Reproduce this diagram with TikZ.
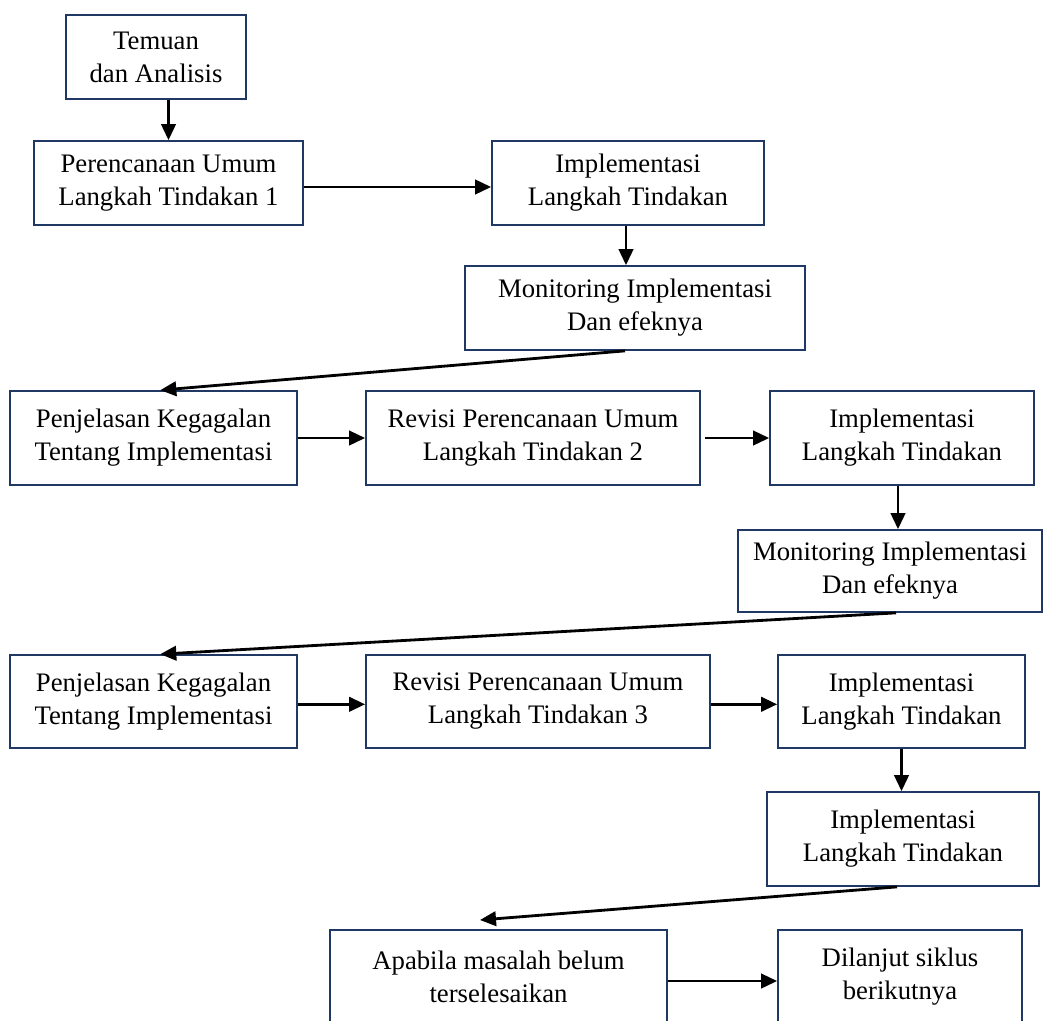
\documentclass[tikz,border=0pt]{standalone}
\usepackage{fontspec}
\setmainfont{Liberation Serif}
\usetikzlibrary{arrows.meta}
\definecolor{boxblue}{RGB}{31,56,100}

\begin{document}
\begin{tikzpicture}[x=0.025cm,y=-0.025cm,thick]
			\tikzstyle{every node}=[shape=rectangle,draw=boxblue,line width=1.2pt,text=black,align=center,inner sep=0pt,font=\fontsize{19}{23.5}\selectfont]
			\tikzstyle{arr}=[-{Triangle[length=0.4cm,width=0.36cm]},draw=black,line width=2pt]
			
			\useasboundingbox (0,0) rectangle (1044,1020);
			
			\node (temuan)   [minimum width=4.5cm,minimum height=2.1cm]     at (156,57)      {Temuan\\dan Analisis};
			\node (rencana1) [minimum width=6.725cm,minimum height=2.1cm]   at (168.5,183)   {Perencanaan Umum\\Langkah Tindakan 1};
			\node (impl1)    [minimum width=6.8cm,minimum height=2.1cm]     at (628,183)     {Implementasi\\Langkah Tindakan};
			\node (monitor1) [minimum width=8.5cm,minimum height=2.1cm]     at (635,308)     {Monitoring Implementasi\\Dan efeknya};
			
			\node (jelas1)   [minimum width=7.175cm,minimum height=2.35cm]  at (153.5,438)   {Penjelasan Kegagalan\\Tentang Implementasi};
			\node (revisi2)  [minimum width=8.35cm,minimum height=2.35cm]   at (533,438)     {Revisi Perencanaan Umum\\Langkah Tindakan 2};
			\node (impl2)    [minimum width=6.6cm,minimum height=2.35cm]    at (902,438)     {Implementasi\\Langkah Tindakan};
			\node (monitor2) [minimum width=7.6cm,minimum height=2.05cm]    at (890,571)     {Monitoring Implementasi\\Dan efeknya};
			
			\node (jelas2)   [minimum width=7.175cm,minimum height=2.325cm] at (153.5,701.5) {Penjelasan Kegagalan\\Tentang Implementasi};
			\node (revisi3)  [minimum width=8.6cm,minimum height=2.325cm]   at (538,701.5)   {Revisi Perencanaan Umum\\Langkah Tindakan 3};
			\node (impl3)    [minimum width=6.175cm,minimum height=2.325cm] at (901.5,701.5) {Implementasi\\Langkah Tindakan};
			\node (impl4)    [minimum width=6.8cm,minimum height=2.35cm]    at (903,839)     {Implementasi\\Langkah Tindakan};
			
			\node (apabila)  [minimum width=8.425cm,minimum height=2.35cm]  at (498.5,977)   {Apabila masalah belum\\terselesaikan};
			\node (lanjut)   [minimum width=6.1cm,minimum height=2.35cm]    at (900,977)     {Dilanjut siklus\\berikutnya};
			\coordinate (tip) at (480,920);
			
			\draw[arr] (temuan.south -| rencana1.north) -- (rencana1.north);
			\draw[arr] ([yshift=-0.1cm]rencana1.east) -- ([yshift=-0.1cm]impl1.west);
			\draw[arr] ([xshift=-0.05cm]impl1.south) -- ([xshift=-0.05cm]impl1.south |- monitor1.north);
			\draw[arr] ([xshift=-0.25cm]monitor1.south) -- ([xshift=0.17cm]jelas1.north);
			\draw[arr] (jelas1.east) -- (revisi2.west);
			\draw[arr] ([xshift=0.1cm]revisi2.east) -- (impl2.west);
			\draw[arr] ([xshift=-0.1cm]impl2.south) -- ([xshift=-0.1cm]impl2.south |- monitor2.north);
			\draw[arr] ([xshift=0.15cm]monitor2.south) -- ([xshift=0.17cm]jelas2.north);
			\draw[arr] ([yshift=-0.07cm]jelas2.east) -- ([yshift=-0.07cm]revisi3.west);
			\draw[arr] ([yshift=-0.07cm]revisi3.east) -- ([yshift=-0.07cm]impl3.west);
			\draw[arr] (impl3.south) -- (impl3.south |- impl4.north);
			\draw[arr] ([xshift=-0.15cm]impl4.south) -- (tip);
			\draw[arr] ([yshift=-0.1cm]apabila.east) -- ([yshift=-0.1cm]lanjut.west);
\end{tikzpicture}
\end{document}
